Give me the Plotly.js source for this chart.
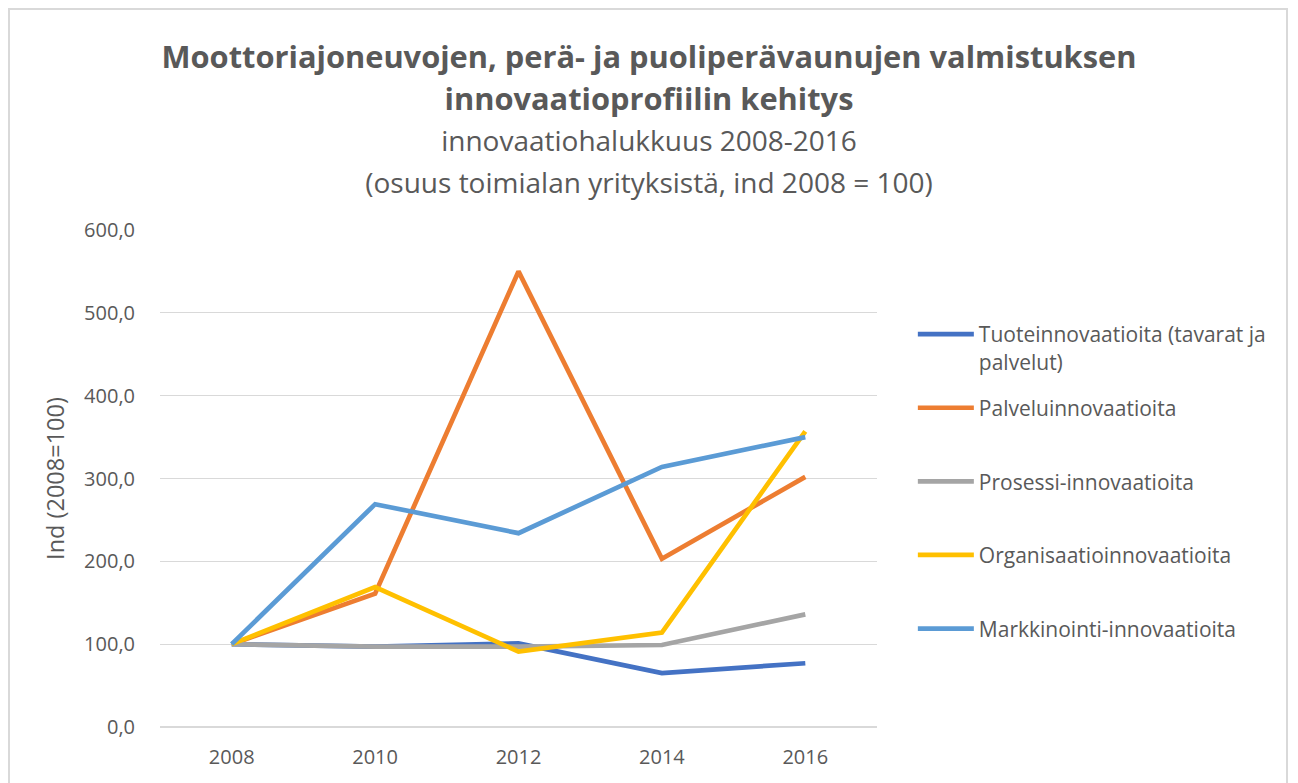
<!DOCTYPE html>
<html>
<head>
<meta charset="utf-8">
<script src="https://cdn.plot.ly/plotly-3.0.1.min.js"></script>
<style>
html,body{margin:0;padding:0;background:#fff;overflow:hidden;}
#chart{width:1298px;height:783px;position:absolute;left:0;top:0;}
#frame{position:absolute;left:8px;top:8px;width:1280px;height:800px;border:2px solid #D9D9D9;pointer-events:none;box-sizing:border-box;}
</style>
</head>
<body>
<div id="chart"></div>
<div id="frame"></div>
<script>
const years = ["2008", "2010", "2012", "2014", "2016"];
const seriesNames = [
  "Tuoteinnovaatioita (tavarat ja<br>palvelut)",
  "Palveluinnovaatioita<br>\u00A0",
  "Prosessi-innovaatioita<br>\u00A0",
  "Organisaatioinnovaatioita<br>\u00A0",
  "Markkinointi-innovaatioita<br>\u00A0"
];
const tuote = [100, 97, 101, 65, 77];
const palvelu = [100, 161, 550, 203, 302];
const prosessi = [100, 97, 97, 99, 136];
const organisaatio = [100, 169, 91, 114, 357];
const markkinointi = [100, 269, 234, 314, 350];
const colors = ["#4472C4", "#ED7D31", "#A5A5A5", "#FFC000", "#5B9BD5"];
const yTicks = [0, 100, 200, 300, 400, 500, 600];

const allValues = [tuote, palvelu, prosessi, organisaatio, markkinointi];
const traces = allValues.map((v, i) => ({
  type: "scatter",
  mode: "lines",
  x: years,
  y: v,
  name: seriesNames[i],
  legendgroup: "g" + i,
  line: {color: colors[i], width: 4.7},
  hoverinfo: "x+y+name"
}));

const baseFont = "'Open Sans', 'Noto Sans', sans-serif";
const titleFont = "'Open Sans', 'Noto Sans', sans-serif";

const layout = {
  width: 1298,
  height: 783,
  paper_bgcolor: "#ffffff",
  plot_bgcolor: "#ffffff",
  margin: {l: 160, r: 421, t: 230, b: 56},
  separators: ",.",
  font: {family: baseFont, color: "#595959", size: 20},
  title: {
    text: "<b><span style='font-size:30.8px'>Moottoriajoneuvojen, perä- ja puoliperävaunujen valmistuksen<br>innovaatioprofiilin kehitys</span></b><br><span style='font-size:28px'>innovaatiohalukkuus 2008-2016<br>(osuus toimialan yrityksistä, ind 2008 = 100)</span>",
    font: {family: titleFont, size: 32, color: "#595959"},
    x: 0.5,
    xref: "container",
    xanchor: "center",
    y: 1 - 68 / 783,
    yref: "container",
    yanchor: "top"
  },
  xaxis: {
    type: "category",
    range: [-0.5, 4.5],
    showgrid: false,
    zeroline: false,
    showline: false,
    ticks: "",
    ticklabelstandoff: 16,
    tickfont: {family: baseFont, size: 20, color: "#595959"},
    fixedrange: true
  },
  yaxis: {
    range: [0, 600],
    tickvals: yTicks,
    tickformat: ".1f",
    showgrid: true,
    gridcolor: "#D9D9D9",
    gridwidth: 1.3,
    zeroline: true,
    zerolinecolor: "#D9D9D9",
    zerolinewidth: 1.3,
    showline: false,
    ticks: "",
    ticklabelstandoff: 24,
    tickfont: {family: baseFont, size: 20, color: "#595959"},
    title: {text: "Ind (2008=100)", font: {family: baseFont, size: 23.5, color: "#595959"}, standoff: 12},
    fixedrange: true
  },
  showlegend: true,
  legend: {
    x: 1.05,
    xanchor: "left",
    y: 1 - (314 - 230) / 497,
    yanchor: "top",
    font: {family: baseFont, size: 21, color: "#595959"},
    tracegroupgap: 16,
    valign: "top",
    itemwidth: 56,
    bgcolor: "rgba(0,0,0,0)"
  }
};

Plotly.newPlot("chart", traces, layout, {displayModeBar: false, staticPlot: true});
</script>
</body>
</html>
